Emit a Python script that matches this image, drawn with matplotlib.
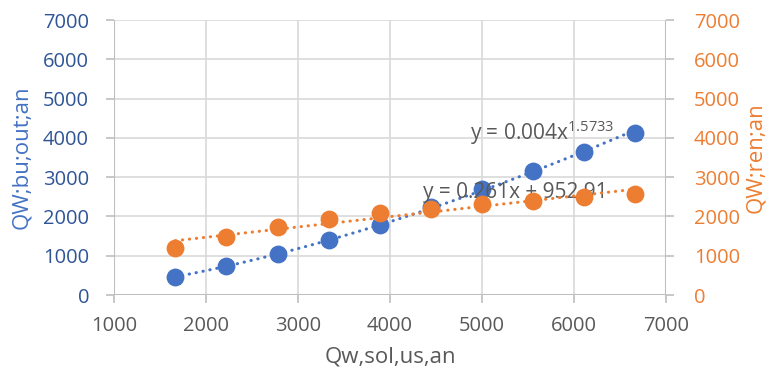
import matplotlib.pyplot as plt
import numpy as np

plt.rcParams['font.family'] = ['Open Sans', 'DejaVu Sans']
plt.rcParams['mathtext.fontset'] = 'custom'
plt.rcParams['mathtext.rm'] = 'Open Sans'

# data
qw_sol = np.array([1667, 2222, 2778, 3333, 3889, 4444, 5000, 5556, 6111, 6667])
qw_bu_out = np.array([460, 738, 1043, 1400, 1781, 2235, 2697, 3155, 3640, 4124])
qw_ren = np.array([1196, 1476, 1730, 1934, 2087, 2188, 2316, 2392, 2494, 2570])
ticks = [0, 1000, 2000, 3000, 4000, 5000, 6000, 7000]
xticks = [1000, 2000, 3000, 4000, 5000, 6000, 7000]

blue = "#4472C4"
orange = "#ED7D31"
gray = "#595959"

fig = plt.figure(figsize=(7.73, 3.76), dpi=100)
ax = fig.add_axes([0.1475, 0.2154, 0.7141, 0.7314])
ax2 = ax.twinx()

# trendlines (power for blue, linear for orange)
xs = np.linspace(qw_sol.min(), qw_sol.max(), 100)
b, log_a = np.polyfit(np.log(qw_sol), np.log(qw_bu_out), 1)
ax.plot(xs, np.exp(log_a) * xs ** b, color=blue, lw=2.2,
        linestyle=(0, (0.1, 2.2)), dash_capstyle="round", zorder=3)
m, c = np.polyfit(qw_sol, qw_ren, 1)
ax2.plot(xs, m * xs + c, color=orange, lw=2.2,
         linestyle=(0, (0.1, 2.2)), dash_capstyle="round", zorder=3)

ax.scatter(qw_sol, qw_bu_out, s=165, color=blue, zorder=4, linewidths=0)
ax2.scatter(qw_sol, qw_ren, s=165, color=orange, zorder=4, linewidths=0)

for a in (ax, ax2):
    a.set_xlim(1000, 7000)
    a.set_ylim(0, 7000)
    a.set_yticks(ticks)
    for s in a.spines.values():
        s.set_visible(False)

ax.set_xticks(xticks)
ax.grid(True, color="#D9D9D9", lw=1.2)
ax.set_axisbelow(True)
ax.axvline(1000, color="#BFBFBF", lw=1.5, zorder=1)
ax.axvline(7000, color="#BFBFBF", lw=1.5, zorder=1)
ax.axhline(0, color="#BFBFBF", lw=1.5, zorder=1)

ax.tick_params(axis="y", colors="#BFBFBF", labelcolor="#2F5597", labelsize=14.5,
               length=6, width=1.2, pad=12)
ax.tick_params(axis="x", colors="#BFBFBF", labelcolor=gray, labelsize=14.5,
               length=6, width=1.2, pad=9)
ax2.tick_params(axis="y", colors="#BFBFBF", labelcolor=orange, labelsize=14.5,
                length=6, width=1.2, pad=14)

ax.set_xlabel("Qw,sol,us,an", color=gray, fontsize=16, labelpad=8)
ax.set_ylabel("QW;bu;out;an", color=blue, fontsize=16, labelpad=8)
ax2.set_ylabel("QW;ren;an", color=orange, fontsize=16, labelpad=4)

ax.text(4870, 3944, r"y = 0.004x$^{\mathrm{1.5733}}$", color=gray, fontsize=15, zorder=5)
ax.text(4359, 2468, "y = 0.261x + 952.91", color=gray, fontsize=15, zorder=5)

fig.savefig("out.png", dpi=100)
